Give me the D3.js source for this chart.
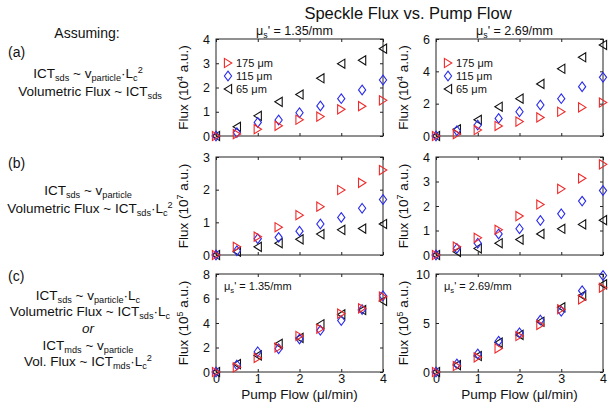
<!DOCTYPE html>
<html><head><meta charset="utf-8">
<script src="https://cdn.jsdelivr.net/npm/d3@7"></script>
<style>body{margin:0;background:#fff;} text{font-family:"Liberation Sans",Arial,sans-serif;fill:#111;}</style>
</head><body><svg id="c" width="614" height="405"></svg>
<script>
const pumpFlow = [0, 0.5, 1, 1.5, 2, 2.5, 3, 3.5, 4];
const seriesNames = ["175 μm", "115 μm", "65 μm"];
const seriesColors = ["#ee2a2a", "#2a2aee", "#111111"];
// Row (a)
const a135_175 = [0, 0.08, 0.28, 0.42, 0.67, 0.8, 1.1, 1.23, 1.47];
const a135_115 = [0, 0.14, 0.56, 0.66, 0.96, 1.24, 1.54, 1.9, 2.31];
const a135_65  = [0, 0.38, 0.83, 1.41, 1.71, 2.38, 2.98, 3.12, 3.6];
const a269_175 = [0, 0.12, 0.37, 0.62, 0.89, 1.15, 1.5, 1.77, 2.07];
const a269_115 = [0, 0.33, 0.68, 1.09, 1.5, 1.92, 2.31, 3.05, 3.63];
const a269_65  = [0, 0.41, 1.0, 1.81, 2.31, 3.22, 4.16, 4.87, 5.63];
// Row (b)
const b135_175 = [0, 0.25, 0.56, 0.85, 1.22, 1.48, 1.99, 2.21, 2.6];
const b135_115 = [0, 0.13, 0.5, 0.54, 0.73, 0.95, 1.15, 1.43, 1.7];
const b135_65  = [0, 0.1, 0.25, 0.36, 0.48, 0.64, 0.77, 0.81, 0.95];
const b269_175 = [0, 0.34, 0.7, 1.03, 1.59, 2.06, 2.7, 3.13, 3.7];
const b269_115 = [0, 0.27, 0.48, 0.86, 1.07, 1.41, 1.68, 2.2, 2.63];
const b269_65  = [0, 0.13, 0.27, 0.48, 0.63, 0.86, 1.07, 1.25, 1.42];
// Row (c)
const c135_175 = [0, 0.38, 1.15, 2.0, 2.94, 3.53, 4.76, 5.2, 6.15];
const c135_115 = [0, 0.57, 1.65, 1.9, 2.7, 3.4, 4.2, 5.1, 6.22];
const c135_65  = [0, 0.65, 1.35, 2.3, 2.78, 3.9, 4.7, 5.06, 5.8];
const c269_175 = [0, 0.61, 1.5, 2.4, 3.67, 4.8, 6.4, 7.4, 8.6];
const c269_115 = [0, 0.82, 1.84, 3.15, 4.0, 5.3, 6.2, 8.3, 9.85];
const c269_65  = [0, 0.71, 1.63, 3.0, 3.78, 5.13, 6.6, 7.8, 8.95];

const xTicks = [0, 1, 2, 3, 4];
const yTicksA = [[0,1,2,3,4],[0,2,4,6]];
const yTicksB = [[0,1,2,3],[0,1,2,3,4]];
const yTicksC = [[0,2,4,6,8],[0,5,10]];
const yMax = [[4,6],[3,4],[8,10]];
const exponents = ["4","7","5"];
const muLabels = ["1.35/mm", "2.69/mm"];

const svg = d3.select("#c");
const colX = [[216, 383], [436, 603]];
const rowY = [[39, 136], [157, 255], [274, 372]];
const data = [
  [[a135_175, a135_115, a135_65], [a269_175, a269_115, a269_65]],
  [[b135_175, b135_115, b135_65], [b269_175, b269_115, b269_65]],
  [[c135_175, c135_115, c135_65], [c269_175, c269_115, c269_65]]
];
const yTicks = [yTicksA, yTicksB, yTicksC];

const shapes = [
  "M-3.6,-4.6L-3.6,4.6L3.8,0Z",  // right triangle
  "M0,-4.8L3.6,0L0,4.8L-3.6,0Z",  // diamond
  "M3.6,-4.6L3.6,4.6L-3.8,0Z"    // left triangle
];

svg.append("text").attr("x", 408).attr("y", 19).attr("text-anchor", "middle")
  .style("font-size", "16.5px").text("Speckle Flux vs. Pump Flow");

function muText(g, x, y, val, anchor, size) {
  const t = g.append("text").attr("x", x).attr("y", y).attr("text-anchor", anchor).style("font-size", size + "px");
  t.append("tspan").text("μ");
  t.append("tspan").attr("dy", 3).style("font-size", (size * 0.7) + "px").text("s");
  t.append("tspan").attr("dy", -3).text("' = " + val);
}

for (let r = 0; r < 3; r++) {
  for (let c = 0; c < 2; c++) {
    const x = d3.scaleLinear().domain([0, 4]).range(colX[c]);
    const y = d3.scaleLinear().domain([0, yMax[r][c]]).range([rowY[r][1], rowY[r][0]]);
    const g = svg.append("g");
    g.append("rect").attr("x", colX[c][0]).attr("y", rowY[r][0])
      .attr("width", colX[c][1] - colX[c][0]).attr("height", rowY[r][1] - rowY[r][0])
      .attr("fill", "none").attr("stroke", "#222").attr("stroke-width", 1);
    const xb = g.append("g").attr("transform", `translate(0,${rowY[r][1]})`)
      .call(d3.axisBottom(x).tickValues(xTicks).tickSize(-3).tickPadding(2).tickFormat(r === 2 ? d3.format("d") : ""));
    const xt = g.append("g").attr("transform", `translate(0,${rowY[r][0]})`)
      .call(d3.axisTop(x).tickValues(xTicks).tickSize(-3).tickFormat(""));
    const yl = g.append("g").attr("transform", `translate(${colX[c][0]},0)`)
      .call(d3.axisLeft(y).tickValues(yTicks[r][c]).tickSize(-3).tickPadding(6).tickFormat(d3.format("d")));
    const yr = g.append("g").attr("transform", `translate(${colX[c][1]},0)`)
      .call(d3.axisRight(y).tickValues(yTicks[r][c]).tickSize(-3).tickFormat(""));
    [xb, xt, yl, yr].forEach(a => {
      a.select(".domain").remove();
      a.selectAll("line").attr("stroke", "#222");
      a.selectAll("text").style("font-size", "12.5px").attr("fill", "#111")
        .style("font-family", "'Liberation Sans',Arial,sans-serif");
    });
    const lx = colX[c][0] - 28, ly = (rowY[r][0] + rowY[r][1]) / 2;
    const lab = g.append("text").attr("transform", `translate(${lx},${ly}) rotate(-90)`)
      .attr("text-anchor", "middle").style("font-size", "13.5px");
    lab.append("tspan").text("Flux (10");
    lab.append("tspan").attr("dy", -5).style("font-size", "9px").text(exponents[r]);
    lab.append("tspan").attr("dy", 5).text(" a.u.)");
    if (r === 2) {
      g.append("text").attr("x", (colX[c][0] + colX[c][1]) / 2).attr("y", 399)
        .attr("text-anchor", "middle").style("font-size", "13.5px").text("Pump Flow (μl/min)");
    }
    if (r === 0) muText(svg, (colX[c][0] + colX[c][1]) / 2 - 5, 35, muLabels[c], "middle", 12.5);
    if (r === 2) muText(svg, colX[c][0] + 8, 290, muLabels[c], "start", 11);
    const order = [2, 1, 0];
    order.forEach(s => {
      g.selectAll(null).data(data[r][c][s]).enter().append("path")
        .attr("d", shapes[s])
        .attr("transform", (d, i) => `translate(${x(pumpFlow[i])},${y(d)})`)
        .attr("fill", "none").attr("stroke", seriesColors[s]).attr("stroke-width", 1.1);
    });
    if (r === 0) {
      seriesNames.forEach((nm, s) => {
        const ly2 = rowY[0][0] + 24 + s * 13;
        g.append("path").attr("d", shapes[s])
          .attr("transform", `translate(${colX[c][0] + 12},${ly2})`)
          .attr("fill", "none").attr("stroke", seriesColors[s]).attr("stroke-width", 1.1);
        g.append("text").attr("x", colX[c][0] + 20).attr("y", ly2 + 4)
          .style("font-size", "11px").text(nm);
      });
    }
  }
}

function richLine(x, y, segs, size, italic) {
  const t = svg.append("text").attr("x", x).attr("y", y).attr("text-anchor", "middle").style("font-size", size + "px");
  if (italic) t.style("font-style", "italic");
  let shift = 0;
  segs.forEach(([txt, kind]) => {
    const target = kind === "sub" ? 3 : kind === "sup" ? -5 : 0;
    const ts = t.append("tspan").text(txt);
    if (target !== shift) { ts.attr("dy", target - shift); shift = target; }
    if (kind) ts.style("font-size", (size * 0.68) + "px");
  });
}
svg.append("text").attr("x", 87).attr("y", 38).attr("text-anchor", "middle").style("font-size", "14px").text("Assuming:");
svg.append("text").attr("x", 8).attr("y", 57).style("font-size", "14px").text("(a)");
svg.append("text").attr("x", 8).attr("y", 168).style("font-size", "14px").text("(b)");
svg.append("text").attr("x", 8).attr("y", 281).style("font-size", "14px").text("(c)");

richLine(88, 78, [["ICT",""],["sds","sub"],[" ~ v",""],["particle","sub"],["·L",""],["c","sub"],["2","sup"]], 13.5);
richLine(90, 96, [["Volumetric Flux ~ ICT",""],["sds","sub"]], 13.5);
richLine(88, 195, [["ICT",""],["sds","sub"],[" ~ v",""],["particle","sub"]], 13.5);
richLine(90, 213, [["Volumetric Flux ~ ICT",""],["sds","sub"],["·L",""],["c","sub"],["2","sup"]], 13.5);
richLine(88, 300, [["ICT",""],["sds","sub"],[" ~ v",""],["particle","sub"],["·L",""],["c","sub"]], 13.5);
richLine(90, 316, [["Volumetric Flux ~ ICT",""],["sds","sub"],["·L",""],["c","sub"]], 13.5);
richLine(88, 333, [["or",""]], 13.5, true);
richLine(88, 350, [["ICT",""],["mds","sub"],[" ~ v",""],["particle","sub"]], 13.5);
richLine(88, 366, [["Vol. Flux ~ ICT",""],["mds","sub"],["·L",""],["c","sub"],["2","sup"]], 13.5);
</script></body></html>
